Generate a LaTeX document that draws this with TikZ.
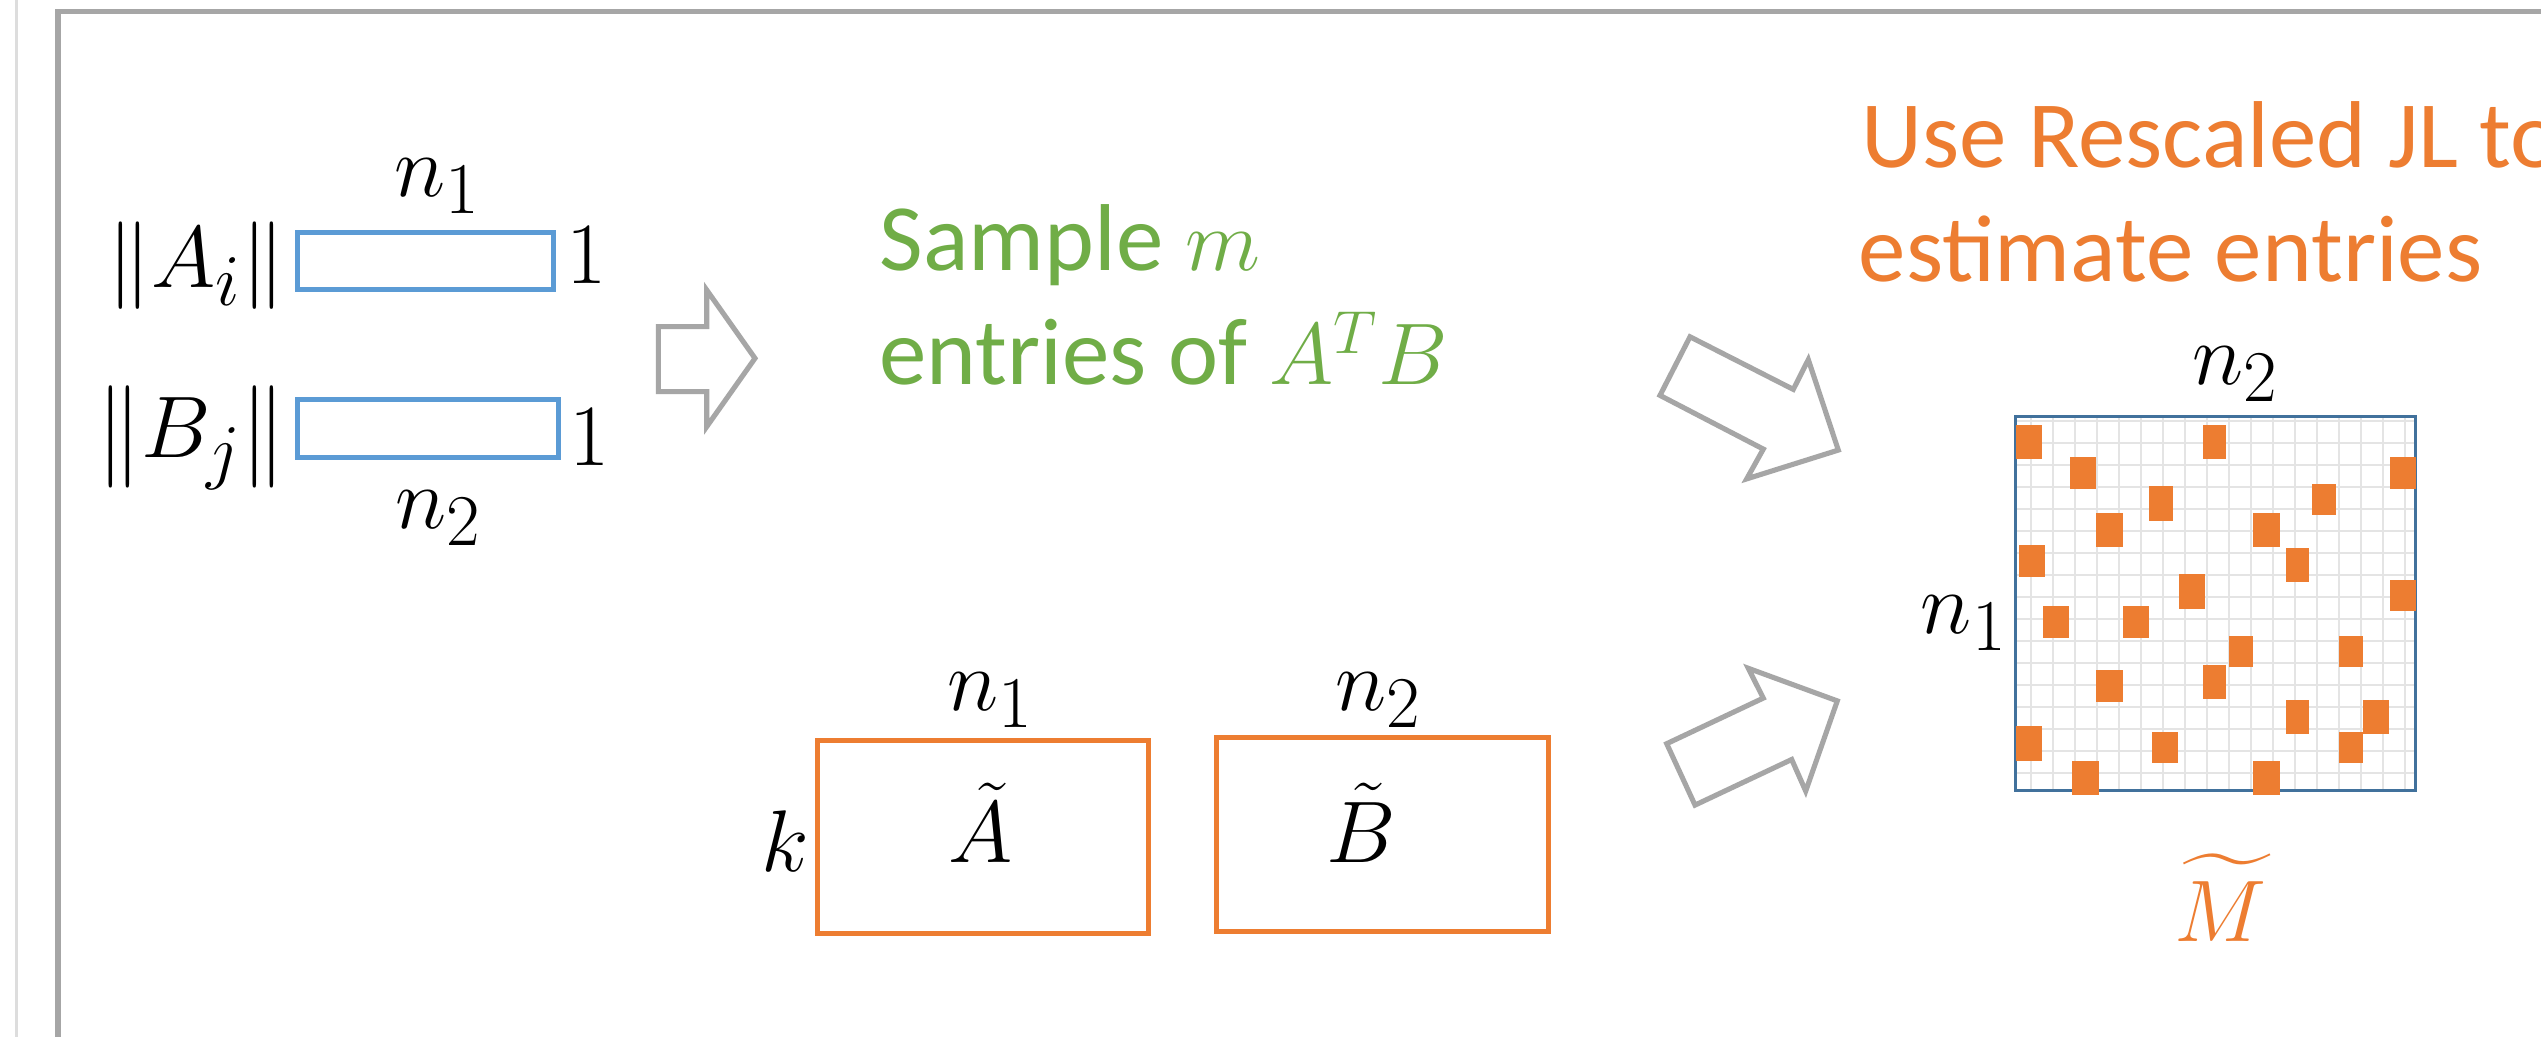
\documentclass[tikz,border=0pt]{standalone}
\usepackage{amsmath}
\usepackage{graphicx}
\usepackage{fontspec}
\setmainfont{Carlito}
\definecolor{cgreen}{HTML}{70AD47}
\definecolor{corange}{HTML}{ED7D31}
\definecolor{cblue}{HTML}{5B9BD5}
\definecolor{cgray}{HTML}{A6A6A6}
\definecolor{cdblue}{HTML}{41719C}
\definecolor{cgrid}{HTML}{E4E4E4}
\definecolor{cline}{HTML}{DDDDDD}
\newcommand{\tallnorm}{\raisebox{-0.05em}{\scalebox{1}[1.17]{$\|$}}}
\begin{document}
\begin{tikzpicture}[x=0.01cm,y=-0.01cm,
  lbl/.style={inner sep=0pt, font=\fontsize{28}{34}\selectfont},
  txt/.style={inner sep=0pt, font=\fontsize{27}{32}\selectfont},
  vecbox/.style={draw=cblue, line width=1.3pt, inner sep=0pt},
  skbox/.style={draw=corange, line width=1.45pt, inner sep=0pt},
  gridbox/.style={draw=cdblue, line width=0.75pt, inner sep=0pt},
  blockarrow/.style={draw=cgray, line width=1.45pt, line join=miter},
  entry/.style={fill=corange}]
\useasboundingbox (0,0) rectangle (2541,1037);
\clip (0,0) rectangle (2541,1037);
\fill[white] (0,0) rectangle (2541,1037);
% frame
\draw[cline, line width=0.6pt] (16.5,-5) -- (16.5,1045);
\draw[cgray, line width=1.45pt] (58,1045) -- (58,11.5) -- (2550,11.5);

% left: vectors
\node[vecbox, minimum width=2.56cm, minimum height=0.57cm] (ra) at (425.5,261) {};
\node[vecbox, minimum width=2.61cm, minimum height=0.58cm] (rb) at (428,428.5) {};
\node[lbl, anchor=base east] (na) at (286,288) {$\|A_i\|$};
\node[lbl, anchor=base east] (nb) at (286,458) {$\tallnorm B_j\tallnorm$};
\node[lbl, anchor=base west] (onea) at (566,284) {$1$};
\node[lbl, anchor=base west] (oneb) at (569,466) {$1$};
\node[lbl, anchor=base] (n1a) at (437.5,197) {$n_1$};
\node[lbl, anchor=base] (n2a) at (439,529) {$n_2$};

% arrow 1
\draw[blockarrow] (658.3,326.7) -- (706.7,326.7) -- (706.7,290) -- (755,358.3)
  -- (706.7,426.7) -- (706.7,391.7) -- (658.3,391.7) -- cycle;

% green text
\node[txt, text=cgreen, anchor=base west] (s1) at (879,271) {Sample $m$};
\node[txt, text=cgreen, anchor=base west] (s2) at (879,385) {entries of $A^TB$};

% sketches
\node[skbox, minimum width=3.31cm, minimum height=1.93cm] (sa) at (983,837) {};
\node[skbox, minimum width=3.32cm, minimum height=1.94cm] (sb) at (1382.5,834.5) {};
\node[lbl, anchor=base] (n1b) at (990.5,711) {$n_1$};
\node[lbl, anchor=base] (n2b) at (1378.5,711) {$n_2$};
\node[lbl, anchor=base west] (kk) at (761,872) {$k$};
\node[lbl, anchor=base] (at) at (981,863) {$\tilde{A}$};
\node[lbl, anchor=base] (bt) at (1361,863) {$\tilde{B}$};

% arrows 2 and 3
\draw[blockarrow] (1690,336.8) -- (1793.3,389.4) -- (1808.3,359.6) -- (1838.3,450.1)
  -- (1746.7,478.9) -- (1763.3,449.1) -- (1660,395.4) -- cycle;
\draw[blockarrow] (1748.3,668.3) -- (1837.3,700.9) -- (1805.7,791.1) -- (1791.7,759.5)
  -- (1695,805.1) -- (1666.7,743.7) -- (1763.3,698.1) -- cycle;

% orange text
\node[txt, text=corange, anchor=base west] (u1) at (1861,168) {Use Rescaled JL to};
\node[txt, text=corange, anchor=base west] (u2) at (1858,282) {estimate entries};

% grid matrix
\foreach \i in {0,...,17}
  \draw[cgrid, line width=0.65pt] ({2031+22*\i},417) -- ({2031+22*\i},790);
\foreach \j in {0,...,16}
  \draw[cgrid, line width=0.65pt] (2016,{421+22*\j}) -- (2415,{421+22*\j});
\node[gridbox, minimum width=4cm, minimum height=3.74cm] (mat) at (2215.5,603.5) {};
\foreach \a/\b/\c/\d in {
  2016/425/2042/459.3, 2202.5/425/2226.3/459.3, 2069.5/457/2095.9/488.7,
  2389.5/457/2415.9/488.7, 2149.4/486.3/2173.1/520.7, 2311.9/483.7/2335.6/515.3,
  2095.9/513/2122.6/547.3, 2253.4/513/2279.8/547.3, 2018.6/545/2045/576.7,
  2285.5/547.7/2309.2/582, 2178.8/574.3/2205.2/608.7, 2389.5/579.7/2415.9/611.3,
  2042.7/606.3/2069.1/638, 2122.6/606.3/2149/638, 2229.3/635.7/2253.1/667.3,
  2339/635.7/2362.7/667.3, 2095.9/670.3/2122.6/702, 2202.5/665/2226.3/699.3,
  2285.5/699.7/2309.2/734, 2363.1/699.7/2389.1/734, 2016/726.3/2042.3/760.7,
  2152/731.7/2178.4/763.3, 2339/731.7/2362.7/763.3, 2072.1/761/2098.5/795.3,
  2253.4/761/2279.8/795.3}
  \fill[entry] (\a,\b) rectangle (\c,\d);
\node[lbl, anchor=base] (n2c) at (2235.5,385) {$n_2$};
\node[lbl, anchor=base east] (n1c) at (2008,634) {$n_1$};
\node[lbl, text=corange, anchor=base] (mt) at (2220,942) {$\widetilde{M}$};
\end{tikzpicture}
\end{document}
